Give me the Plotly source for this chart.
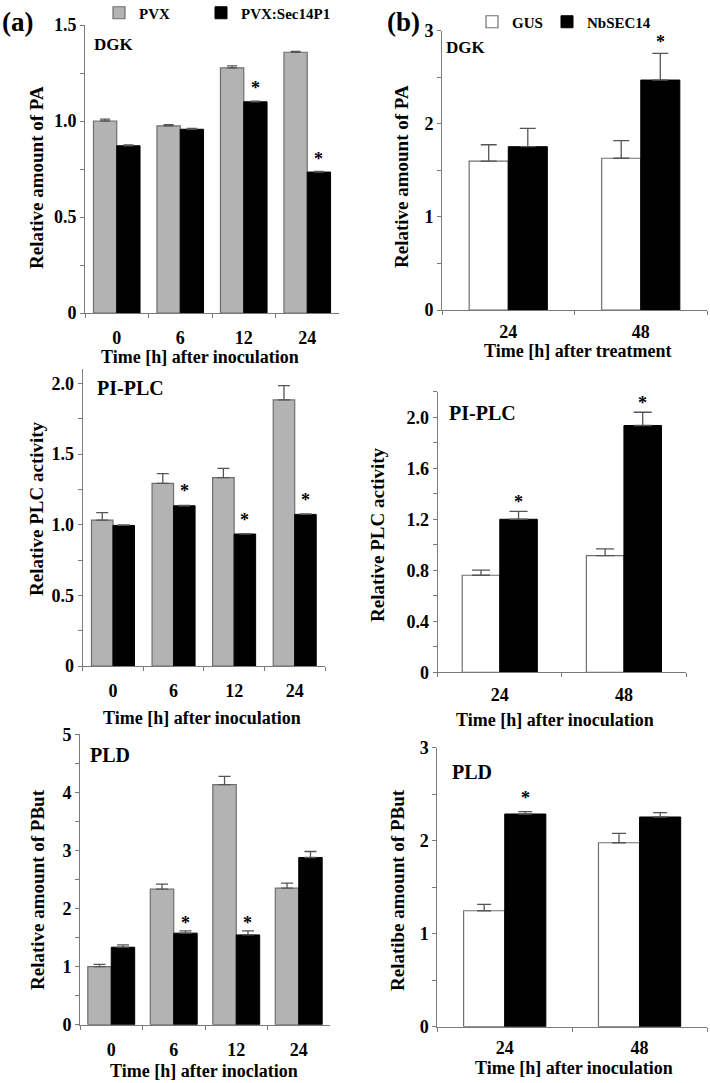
import plotly.graph_objects as go

W, H = 710, 1083

# ---------------- data ----------------
a_times = ["0", "6", "12", "24"]
b_times = ["24", "48"]

dgk_pvx = [1.00, 0.975, 1.277, 1.358]
dgk_pvx_err = [0.010, 0.006, 0.010, 0.005]
dgk_sec = [0.871, 0.957, 1.100, 0.734]
dgk_sec_err = [0.004, 0.004, 0.003, 0.003]
dgk_sig = [False, False, True, True]

dgk_gus = [1.60, 1.63]
dgk_gus_err = [0.175, 0.19]
dgk_nb = [1.754, 2.47]
dgk_nb_err = [0.197, 0.287]
dgk_b_sig = [False, True]

plc_pvx = [1.033, 1.293, 1.333, 1.883]
plc_pvx_err = [0.052, 0.068, 0.066, 0.101]
plc_sec = [0.995, 1.134, 0.934, 1.073]
plc_sec_err = [0.004, 0.003, 0.003, 0.004]
plc_sig = [False, True, True, True]

plc_gus = [0.761, 0.915]
plc_gus_err = [0.040, 0.052]
plc_nb = [1.200, 1.935]
plc_nb_err = [0.062, 0.104]
plc_b_sig = [True, True]

pld_pvx = [1.00, 2.334, 4.133, 2.351]
pld_pvx_err = [0.040, 0.086, 0.144, 0.086]
pld_sec = [1.334, 1.576, 1.546, 2.879]
pld_sec_err = [0.040, 0.040, 0.070, 0.103]
pld_sig = [False, True, True, False]

pld_gus = [1.247, 1.978]
pld_gus_err = [0.068, 0.100]
pld_nb = [2.287, 2.255]
pld_nb_err = [0.025, 0.046]
pld_b_sig = [True, False]

a_names = ["PVX", "PVX:Sec14P1"]
b_names = ["GUS", "NbSEC14"]

# ---------------- style ----------------
FONT = "Liberation Serif"
GRAY = "#b3b3b3"
EDGE = "#6f6f6f"
AXC = "#7a7a7a"

fig = go.Figure()

panels = [
    ("", a_times, dgk_pvx, dgk_pvx_err, dgk_sec, dgk_sec_err, dgk_sig, a_names, GRAY,
     85, 339, 313, 25, 1.5, [0, 0.5, 1.0, 1.5], ["0", "0.5", "1.0", "1.5"], 0.25, 0.266, 5,
     ("legend", "legend2"), 13, 8),
    ("2", b_times, dgk_gus, dgk_gus_err, dgk_nb, dgk_nb_err, dgk_b_sig, b_names, "white",
     442, 707, 310, 30.7, 3, [0, 1, 2, 3], ["0", "1", "2", "3"], 0.5, 0.41, 8,
     ("legend3", "legend4"), 11, 5),
    ("3", a_times, plc_pvx, plc_pvx_err, plc_sec, plc_sec_err, plc_sig, a_names, GRAY,
     82.7, 325, 666, 369.3, 2.1, [0, 0.5, 1.0, 1.5, 2.0], ["0", "0.5", "1.0", "1.5", "2.0"], 0.25, 0.29, 6,
     None, 14, 8),
    ("4", b_times, plc_gus, plc_gus_err, plc_nb, plc_nb_err, plc_b_sig, b_names, "white",
     437.7, 686, 672.3, 391.7, 2.2, [0, 0.4, 0.8, 1.2, 1.6, 2.0], ["0", "0.4", "0.8", "1.2", "1.6", "2.0"], 0.2, 0.395, 9,
     None, 9, 6),
    ("5", a_times, pld_pvx, pld_pvx_err, pld_sec, pld_sec_err, pld_sig, a_names, GRAY,
     80, 330, 1024.7, 734.3, 5, [0, 1, 2, 3, 4, 5], ["0", "1", "2", "3", "4", "5"], 0.5, 0.25, 6,
     None, 8, 9),
    ("6", b_times, pld_gus, pld_gus_err, pld_nb, pld_nb_err, pld_b_sig, b_names, "white",
     437.3, 707, 1026.7, 747.7, 3, [0, 1, 2, 3], ["0", "1", "2", "3"], 0.5, 0.39, 7,
     None, 14, 5),
]

annotations = []
tickfont = dict(family=FONT, size=18, color="black", weight="bold")

for (k, cats, v1, e1, v2, e2, sig, names, fill1, x0, x1, yb, yt, ymax,
     tv, tt, mdt, gap, cap, legs, ast, stand) in panels:
    w = (1 - gap) / 2
    xa, ya = "x" + k, "y" + k
    fig.add_trace(go.Bar(
        x=cats, y=v1, name=names[0], width=w, offset=-w, xaxis=xa, yaxis=ya,
        marker=dict(color=fill1, line=dict(color=EDGE, width=1.2)),
        error_y=dict(type="data", array=e1, symmetric=False, arrayminus=[0] * len(e1),
                     color="#555555", thickness=1.3, width=cap),
        showlegend=legs is not None, legend=legs[0] if legs else "legend"))
    fig.add_trace(go.Bar(
        x=cats, y=v2, name=names[1], width=w, offset=0, xaxis=xa, yaxis=ya,
        marker=dict(color="black", line=dict(color="black", width=1)),
        error_y=dict(type="data", array=e2, symmetric=False, arrayminus=[0] * len(e2),
                     color="#555555", thickness=1.3, width=cap),
        showlegend=legs is not None, legend=legs[1] if legs else "legend"))

    n = len(cats)
    catpx = (x1 - x0) / n
    fig.layout["xaxis" + k] = dict(
        domain=[x0 / W, x1 / W], anchor=ya, type="category", range=[-0.5, n - 0.5],
        showline=True, linecolor=AXC, linewidth=1, ticks="outside", tickson="boundaries",
        ticklen=4, tickcolor=AXC, tickfont=tickfont, showgrid=False, zeroline=False,
        ticklabelstandoff=stand, fixedrange=True)
    fig.layout["yaxis" + k] = dict(
        domain=[1 - yb / H, 1 - yt / H], anchor=xa, range=[0, ymax],
        showline=True, linecolor=AXC, linewidth=1, ticks="outside", ticklen=4,
        tickcolor=AXC, tickvals=tv, ticktext=tt, tickfont=tickfont, showgrid=False,
        zeroline=False, minor=dict(dtick=mdt, ticks="outside", ticklen=4, tickcolor=AXC,
                                   showgrid=False),
        fixedrange=True)

    # significance asterisks above the second (black) bar of each group
    for i, (val, err, s) in enumerate(zip(v2, e2, sig)):
        if s:
            annotations.append(dict(
                x=i, y=val + err, xref=xa, yref=ya, text="*", showarrow=False,
                xshift=w * catpx / 2, yshift=ast, yanchor="middle",
                font=dict(family=FONT, size=18, color="black", weight="bold")))


def txt(x, y, s, size, angle=0):
    annotations.append(dict(
        x=x / W, y=1 - y / H, xref="paper", yref="paper", text=s, showarrow=False,
        xanchor="center", yanchor="middle", textangle=angle,
        font=dict(family=FONT, size=size, color="black", weight="bold")))


# panel letters
txt(17, 22, "(a)", 27)
txt(403, 22, "(b)", 27)
# panel names
txt(114, 44, "DGK", 17)
txt(466, 47, "DGK", 17)
txt(130, 388, "PI-PLC", 20)
txt(482, 413, "PI-PLC", 20)
txt(110, 755, "PLD", 20)
txt(472, 772, "PLD", 20)
# x titles
txt(200, 357, "Time [h] after inoculation", 18)
txt(577, 351, "Time [h] after treatment", 18)
txt(202, 718, "Time [h] after inoculation", 18)
txt(555, 720, "Time [h] after inoculation", 18)
txt(204, 1071, "Time [h] after inoclation", 18)
txt(574, 1068, "Time [h] after inoculation", 18)
# y titles
txt(37, 178, "Relative amount of PA", 19, -90)
txt(401, 177, "Relative amount of PA", 19, -90)
txt(37, 509, "Relative PLC activity", 19, -90)
txt(377, 534, "Relative PLC activity", 19, -90)
txt(37, 890, "Relative amount of PBut", 19, -90)
txt(397, 890, "Relatibe amount of PBut", 19, -90)

legfont = dict(family=FONT, size=15, color="black", weight="bold")


def leg(x, y):
    return dict(orientation="h", x=x / W, y=1 - y / H, xanchor="left", yanchor="middle",
                font=legfont, bgcolor="rgba(0,0,0,0)")


fig.update_layout(
    width=W, height=H, autosize=False,
    margin=dict(l=0, r=0, t=0, b=0, autoexpand=False),
    paper_bgcolor="white", plot_bgcolor="white",
    barmode="overlay",
    annotations=annotations,
    legend=leg(99, 13),
    legend2=leg(201, 13),
    legend3=leg(472, 22),
    legend4=leg(547, 22),
)

fig.write_html("out.html", config={"displayModeBar": False},
               post_script="document.body.style.margin='0';")
